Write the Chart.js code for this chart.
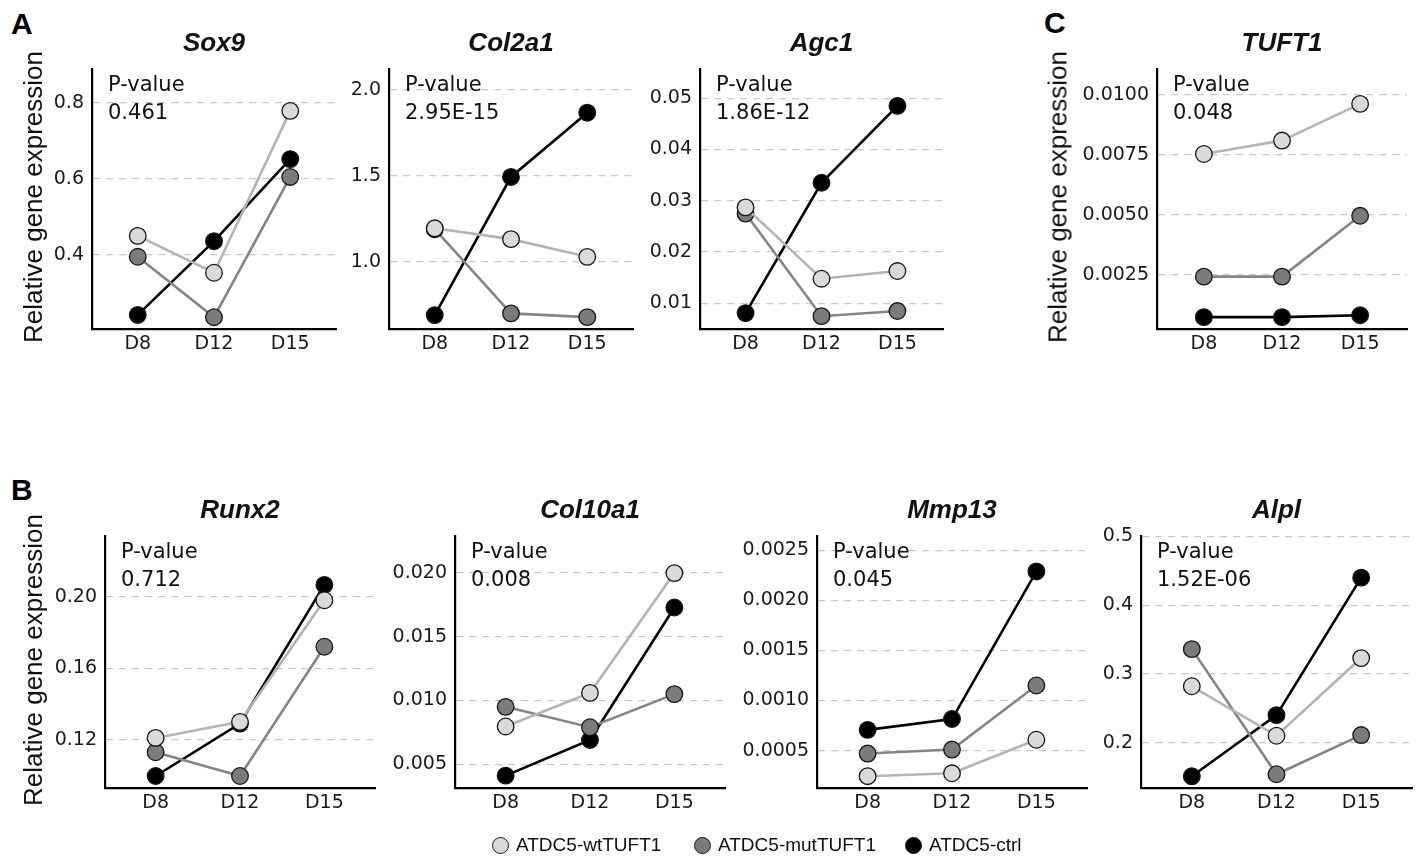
<!DOCTYPE html>
<html>
<head>
<meta charset="utf-8">
<script src="https://cdn.jsdelivr.net/npm/chart.js@4.4.1/dist/chart.umd.min.js"></script>
<style>
  body { margin: 0; background: #fff; width: 1416px; height: 859px; position: relative; overflow: hidden;
         font-family: "Liberation Sans", Arial, sans-serif; color: #111; }
  canvas { position: absolute; }
  .lbl { position: absolute; white-space: nowrap; }
  .title { font-weight: bold; font-style: italic; font-size: 26px; transform: translate(-50%, -50%); }
  .letter { font-weight: bold; font-size: 30px; transform: translateY(-50%); color: #000; }
  .ytitle { font-size: 26px; transform: translate(-50%, -50%) rotate(-90deg); }
  .pval { font-family: "DejaVu Sans", Verdana, sans-serif; font-size: 21px; line-height: 28px; }
  .leg { font-size: 19px; transform: translateY(-50%); display: flex; align-items: center; }
  .dot { display: inline-block; width: 15px; height: 15px; border-radius: 50%; border: 1.3px solid #1a1a1a; margin-right: 7px; }
</style>
</head>
<body>
<script>
// data
const days = ['D8', 'D12', 'D15'];
const series = ['ATDC5-wtTUFT1', 'ATDC5-mutTUFT1', 'ATDC5-ctrl'];
const genes = ['Sox9', 'Col2a1', 'Agc1', 'TUFT1', 'Runx2', 'Col10a1', 'Mmp13', 'Alpl'];
const pValues = ['0.461', '2.95E-15', '1.86E-12', '0.048', '0.712', '0.008', '0.045', '1.52E-06'];

const wtValues = [
    [0.450, 0.353, 0.779],
    [1.195, 1.132, 1.029],
    [0.0287, 0.0148, 0.0163],
    [0.00754, 0.00810, 0.00963],
    [0.121, 0.130, 0.198],
    [0.00796, 0.0106, 0.0200],
    [0.000244, 0.000273, 0.000608],
    [0.282, 0.210, 0.323]
];
const mutValues = [
    [0.395, 0.236, 0.605],
    [1.190, 0.700, 0.678],
    [0.0275, 0.0075, 0.0085],
    [0.00242, 0.00242, 0.00496],
    [0.113, 0.0997, 0.172],
    [0.0095, 0.0079, 0.0105],
    [0.000470, 0.000510, 0.00115],
    [0.336, 0.154, 0.211]
];
const ctrlValues = [
    [0.242, 0.436, 0.652],
    [0.690, 1.494, 1.868],
    [0.0081, 0.0335, 0.0485],
    [0.00073, 0.00073, 0.00081],
    [0.0997, 0.129, 0.2066],
    [0.0041, 0.0069, 0.0173],
    [0.000707, 0.000815, 0.00229],
    [0.151, 0.240, 0.440]
];

const yTicks = [
    ['0.4', '0.6', '0.8'],
    ['1.0', '1.5', '2.0'],
    ['0.01', '0.02', '0.03', '0.04', '0.05'],
    ['0.0025', '0.0050', '0.0075', '0.0100'],
    ['0.12', '0.16', '0.20'],
    ['0.005', '0.010', '0.015', '0.020'],
    ['0.0005', '0.0010', '0.0015', '0.0020', '0.0025'],
    ['0.2', '0.3', '0.4', '0.5']
];
const yMin = [0.205, 0.609, 0.005, 0.000235, 0.093, 0.00313, 0.000126, 0.134];
const yMax = [0.888, 2.12, 0.0556, 0.01107, 0.2337, 0.02288, 0.00264, 0.500];

// layout: plot area [left, right, top, bottom]
const boxes = [
    [92, 336, 66, 329],
    [389, 633, 66, 329],
    [700, 943, 66, 329],
    [1157, 1407, 66, 329],
    [105, 375, 533, 788],
    [455, 725, 533, 788],
    [817, 1087, 533, 788],
    [1141, 1412, 533, 788]
];

const lineColors = ['#b4b4b4', '#858585', '#000000'];
const fillColors = ['#dadada', '#7b7b7b', '#000000'];
const padL = 90, padT = 16, padR = 12, padB = 40;
const tickFont = { family: '"DejaVu Sans", Verdana, sans-serif', size: 19 };

function addLabel(cls, text, x, y) {
    const d = document.createElement('div');
    d.className = 'lbl ' + cls;
    d.innerHTML = text;
    d.style.left = x + 'px';
    d.style.top = y + 'px';
    document.body.appendChild(d);
    return d;
}

function makePanel(i) {
    const [L, R, T, B] = boxes[i];
    const cv = document.createElement('canvas');
    cv.width = (R - L) + padL + padR;
    cv.height = (B - T) + padT + padB;
    cv.style.left = (L - padL) + 'px';
    cv.style.top = (T - padT) + 'px';
    document.body.appendChild(cv);

    const allValues = [wtValues[i], mutValues[i], ctrlValues[i]];
    const datasets = allValues.map((vals, s) => ({
        label: series[s],
        data: vals.map((v, k) => ({ x: k, y: v })),
        borderColor: lineColors[s],
        borderWidth: 2.6,
        pointRadius: 8.3,
        pointBackgroundColor: fillColors[s],
        pointBorderColor: '#151515',
        pointBorderWidth: 1.3,
        tension: 0,
        clip: false
    }));
    const ticks = yTicks[i];

    new Chart(cv, {
        type: 'line',
        data: { datasets: datasets },
        options: {
            responsive: false,
            animation: false,
            layout: { padding: { top: padT, right: padR, left: 0, bottom: 0 } },
            plugins: { legend: { display: false }, tooltip: { enabled: false } },
            scales: {
                x: {
                    type: 'linear',
                    min: -0.6,
                    max: 2.6,
                    afterBuildTicks: s => { s.ticks = days.map((d, k) => ({ value: k })); },
                    afterFit: s => { s.height = padB; },
                    ticks: { callback: v => days[v], font: tickFont, color: '#1a1a1a', padding: 4, maxRotation: 0 },
                    grid: { display: false, drawTicks: false },
                    border: { display: true, color: '#000', width: 2.2 }
                },
                y: {
                    min: yMin[i],
                    max: yMax[i],
                    afterBuildTicks: s => { s.ticks = ticks.map(t => ({ value: parseFloat(t) })); },
                    afterFit: s => { s.width = padL; },
                    ticks: {
                        callback: (v, k) => ticks[k],
                        font: tickFont, color: '#1a1a1a', padding: 8
                    },
                    grid: { color: '#c9c9c9', lineWidth: 1.2, drawTicks: false },
                    border: { display: true, color: '#000', width: 2.2, dash: [7, 6] }
                }
            }
        }
    });

    addLabel('title', genes[i], (L + R) / 2, T - 24);
    addLabel('pval', 'P-value<br>' + pValues[i], L + 16, T + 4);
}

for (let i = 0; i < genes.length; i++) {
    makePanel(i);
}

addLabel('letter', 'A', 11, 24);
addLabel('letter', 'C', 1044, 23);
addLabel('letter', 'B', 11, 490);
addLabel('ytitle', 'Relative gene expression', 33, 197);
addLabel('ytitle', 'Relative gene expression', 1058, 197);
addLabel('ytitle', 'Relative gene expression', 33, 660);

const legendX = [492, 694, 905];
series.forEach((name, s) => {
    addLabel('leg', '<span class="dot" style="background:' + fillColors[s] + '"></span>' + name, legendX[s], 845);
});
</script>
</body>
</html>
